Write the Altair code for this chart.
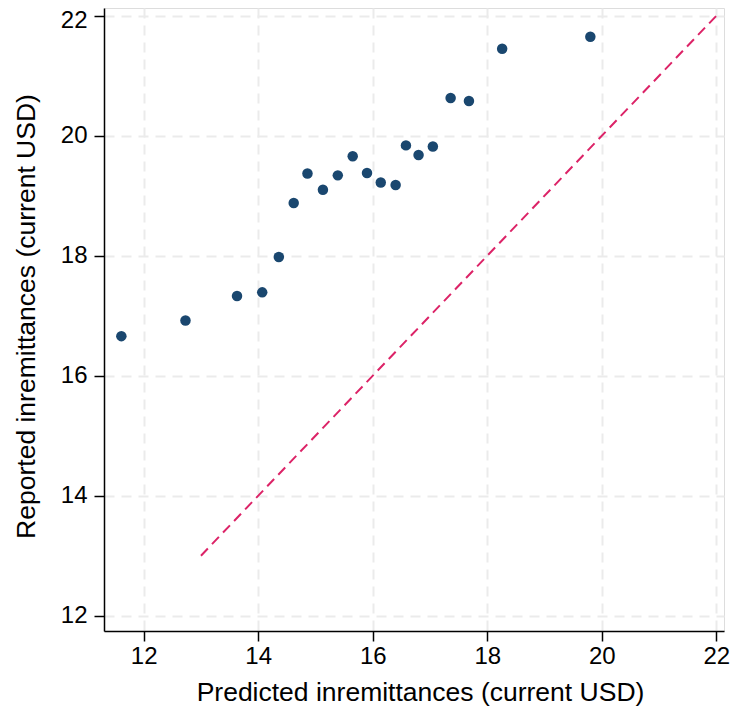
import altair as alt
import pandas as pd

# Scatter data (predicted vs reported inremittances)
predicted = [11.61, 12.73, 13.63, 14.07, 14.36, 14.62, 14.86, 15.13, 15.39, 15.65,
             15.90, 16.14, 16.40, 16.58, 16.80, 17.05, 17.36, 17.68, 18.26, 19.80]
reported = [16.66, 16.92, 17.33, 17.39, 17.98, 18.88, 19.37, 19.10, 19.34, 19.66,
            19.38, 19.22, 19.18, 19.84, 19.68, 19.82, 20.63, 20.58, 21.45, 21.65]

# 45-degree reference line
line_x = [13, 22]
line_y = [13, 22]

ticks = [12, 14, 16, 18, 20, 22]

pts = pd.DataFrame({"predicted": predicted, "reported": reported})
ref = pd.DataFrame({"predicted": line_x, "reported": line_y})

FONT = "Liberation Sans"

xscale = alt.Scale(domain=[11.307, 22.134], nice=False, zero=False)
yscale = alt.Scale(domain=[11.745, 22.13], nice=False, zero=False)

xaxis = alt.Axis(
    values=ticks, format="d", title="Predicted inremittances (current USD)",
    grid=True, gridColor="#ebebeb", gridDash=[10, 7], gridWidth=2,
    domainColor="black", domainWidth=1.5, tickColor="black", tickWidth=1.5,
    tickSize=10, labelFont=FONT, labelFontSize=24, labelColor="black",
    labelPadding=3, titleFont=FONT, titleFontSize=26.5, titleFontWeight="normal",
    titleColor="black", titleX=316, titleY=69, titleBaseline="alphabetic",
    titleAlign="center", labelFlush=False,
)
yaxis = alt.Axis(
    values=ticks, format="d", title="Reported inremittances (current USD)",
    grid=True, gridColor="#ebebeb", gridDash=[10, 7], gridWidth=2,
    domainColor="black", domainWidth=1.5, tickColor="black", tickWidth=1.5,
    tickSize=10, labelFont=FONT, labelFontSize=24, labelColor="black",
    labelPadding=7, titleFont=FONT, titleFontSize=26.5, titleFontWeight="normal",
    titleColor="black", titleX=-70, titleY=308, titleBaseline="alphabetic",
    titleAlign="center", titleAngle=270, labelFlush=10, labelFlushOffset=7,
)

points = alt.Chart(pts).mark_circle(size=110, opacity=1, color="#1a476f").encode(
    x=alt.X("predicted:Q", scale=xscale, axis=xaxis),
    y=alt.Y("reported:Q", scale=yscale, axis=yaxis),
)

line = alt.Chart(ref).mark_line(color="#dc2367", strokeWidth=2, strokeDash=[10, 6]).encode(
    x=alt.X("predicted:Q", scale=xscale),
    y=alt.Y("reported:Q", scale=yscale),
)

chart = alt.layer(line, points).properties(
    width=620, height=623,
    autosize=alt.AutoSizeParams(type="none"),
    padding={"left": 96, "top": 0, "right": 6, "bottom": 75},
).configure_view(stroke=None).configure(background="white")

chart.save("out.html", embed_options={"renderer": "svg", "actions": False})
